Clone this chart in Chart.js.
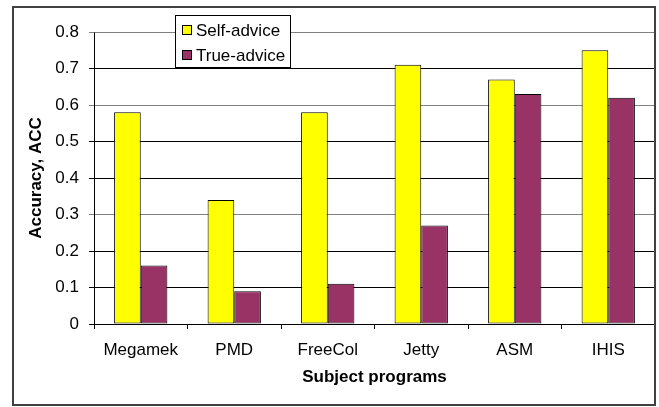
<!DOCTYPE html>
<html>
<head>
<meta charset="utf-8">
<script src="https://cdn.jsdelivr.net/npm/chart.js@4/dist/chart.umd.min.js"></script>
<style>
  html, body { margin: 0; padding: 0; background: #fff; }
  #wrap { width: 659px; height: 407px; }
</style>
</head>
<body>
<div id="wrap"><canvas id="accChart" width="659" height="407"></canvas></div>
<script>
// === DATA ===
const programs = ["Megamek", "PMD", "FreeCol", "Jetty", "ASM", "IHIS"];
const selfAdvice = [0.58, 0.34, 0.58, 0.71, 0.67, 0.75];
const trueAdvice = [0.16, 0.09, 0.11, 0.27, 0.63, 0.62];
const seriesNames = ["Self-advice", "True-advice"];
const seriesColors = ["#FFFF00", "#993366"];
const lightGridValues = [0.3, 0.6, 0.8];

const FONT = "Arial, 'Liberation Sans', Helvetica, sans-serif";

// white page + outer frame
const framePlugin = {
  id: "frame",
  beforeDraw(chart) {
    const ctx = chart.ctx;
    ctx.save();
    ctx.fillStyle = "#fff";
    ctx.fillRect(0, 0, chart.width, chart.height);
    ctx.restore();
  },
  afterDraw(chart) {
    const ctx = chart.ctx;
    const a = chart.chartArea;
    ctx.save();
    // plot area top/right edge
    ctx.strokeStyle = "#808080";
    ctx.lineWidth = 1;
    ctx.beginPath();
    ctx.moveTo(Math.round(a.left) + 0.5, Math.round(a.top) + 0.5);
    ctx.lineTo(Math.round(a.right) + 0.5, Math.round(a.top) + 0.5);
    ctx.lineTo(Math.round(a.right) + 0.5, Math.round(a.bottom) + 0.5);
    ctx.stroke();
    // outer frame
    ctx.strokeStyle = "#404040";
    ctx.lineWidth = 2;
    ctx.strokeRect(13, 7, 642, 398);
    ctx.restore();
  }
};

// boxed legend drawn inside the plot area
const boxLegend = {
  id: "boxLegend",
  afterDraw(chart) {
    const ctx = chart.ctx;
    ctx.save();
    ctx.fillStyle = "#fff";
    ctx.fillRect(175, 15, 115, 52);
    ctx.strokeStyle = "#000";
    ctx.lineWidth = 1;
    ctx.strokeRect(175.5, 15.5, 115, 52);
    ctx.font = "17px " + FONT;
    ctx.textBaseline = "middle";
    chart.data.datasets.forEach((ds, i) => {
      const cy = 30 + i * 25;
      ctx.fillStyle = ds.backgroundColor;
      ctx.fillRect(182.5, cy - 4.5, 9, 9);
      ctx.strokeRect(182.5, cy - 4.5, 9, 9);
      ctx.fillStyle = "#000";
      ctx.fillText(ds.label, 196, cy + 1);
    });
    ctx.restore();
  }
};

new Chart(document.getElementById("accChart"), {
  type: "bar",
  data: {
    labels: programs,
    datasets: [
      { label: seriesNames[0], data: selfAdvice, backgroundColor: seriesColors[0], borderColor: "#000", borderWidth: 1, borderSkipped: false },
      { label: seriesNames[1], data: trueAdvice, backgroundColor: seriesColors[1], borderColor: "#000", borderWidth: 1, borderSkipped: false }
    ]
  },
  options: {
    responsive: false,
    animation: false,
    layout: { padding: { top: 32, right: 4, left: 0, bottom: 0 } },
    datasets: { bar: { categoryPercentage: 0.57, barPercentage: 1.0 } },
    plugins: { legend: { display: false }, tooltip: { enabled: false } },
    scales: {
      x: {
        grid: { drawOnChartArea: false, color: "#000", tickLength: 5, offset: true },
        border: { color: "#000", width: 1 },
        ticks: { color: "#000", font: { family: FONT, size: 17 }, padding: 11 },
        title: {
          display: true, text: "Subject programs", color: "#000",
          font: { family: FONT, size: 17, weight: "bold" }, padding: { top: 0, bottom: 19 }
        },
        afterFit(scale) { scale.height = 83; }
      },
      y: {
        min: 0, max: 0.8,
        ticks: { stepSize: 0.1, color: "#000", font: { family: FONT, size: 17 }, padding: 10 },
        grid: {
          color: ctx => {
            const v = ctx.tick ? Math.round(ctx.tick.value * 10) / 10 : 0;
            return lightGridValues.includes(v) ? "#808080" : "#000";
          },
          tickLength: 5
        },
        border: { color: "#000", width: 1 },
        title: {
          display: true, text: "Accuracy, ACC", color: "#000",
          font: { family: FONT, size: 17, weight: "bold" }, padding: { top: 26, bottom: 0 }
        },
        afterFit(scale) { scale.width = 94; }
      }
    }
  },
  plugins: [framePlugin, boxLegend]
});
</script>
</body>
</html>
